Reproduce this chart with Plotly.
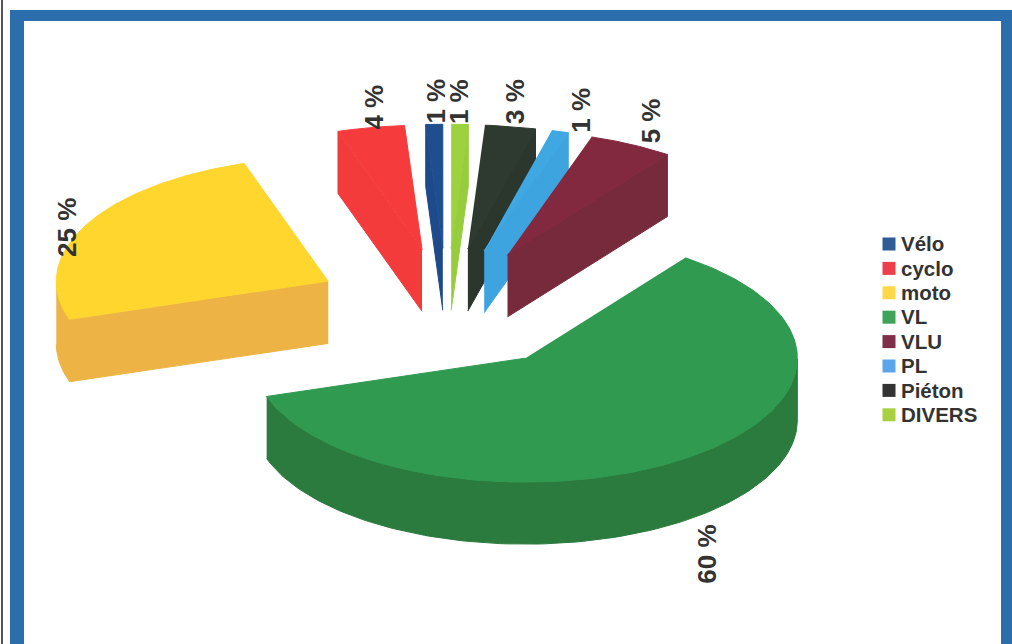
import numpy as np
import plotly.graph_objects as go

# Accident shares by road-user category, in legend order
categories = ["Vélo", "cyclo", "moto", "VL", "VLU", "PL", "Piéton", "DIVERS"]
shares = [1, 4, 25, 60, 5, 1, 3, 1]

top_colors = ["#1F4E8E", "#F53B3C", "#FFD62E", "#2F9A50", "#82293F", "#3FA8E2", "#2E3A30", "#9CD23E"]
wall_colors = ["#1D4A8A", "#F33B3C", "#EDB445", "#2B7A3E", "#772A3B", "#3EA4DF", "#2B362D", "#96CD3C"]
key_colors = ["#2F5C94", "#EE3F4A", "#FFD84A", "#3FA35A", "#7E2F4A", "#5AA5EC", "#333333", "#A8D040"]

# Projection of the exploded pie onto the page, in pixels
CENTER_X, CENTER_Y = 447, 309
RX, RY = 272, 124
DEPTH = 62
EXPLODE = 0.49
FIRST_ANGLE = 90.0  # the Vélo wedge starts at the top of the pie

# Label offsets from the middle of each wedge's rim (pixels)
label_nudge = {
    "Vélo": (2, -23), "cyclo": (2, -20), "moto": (-19, 2), "VL": (22, 96),
    "VLU": (20, -24), "PL": (21, -21), "Piéton": (4, -25), "DIVERS": (0, -23),
}

# Key placed to the right of the pie (pixels)
KEY_X, KEY_TOP, KEY_STEP = 889, 244, 24.4
KEY_TEXT_GAP = 12


def project(angle_deg, radius, ox, oy):
    a = np.radians(angle_deg)
    return ox + radius * RX * np.cos(a), oy - radius * RY * np.sin(a)


# Walk round the pie counter-clockwise following the legend order
wedges = []
start = FIRST_ANGLE
for name, share, top, wall in zip(categories, shares, top_colors, wall_colors):
    end = start + share * 3.6
    mid = (start + end) / 2
    ox, oy = project(mid, EXPLODE, CENTER_X, CENTER_Y)
    wedges.append(dict(name=name, share=share, a=start, b=end, mid=mid, ox=ox, oy=oy, top=top, wall=wall))
    start = end

fig = go.Figure()


def polygon(xs, ys, color):
    fig.add_trace(go.Scatter(
        x=list(xs), y=list(ys), mode="lines", fill="toself", fillcolor=color,
        line=dict(color=color, width=1), showlegend=False, hoverinfo="skip",
    ))


# Far wedges first so that nearer ones overlap them
for w in sorted(wedges, key=lambda v: -np.sin(np.radians(v["mid"]))):
    a, b, ox, oy = w["a"], w["b"], w["ox"], w["oy"]

    # Radial faces turned towards the viewer
    for edge, normal in ((a, a - 90), (b, b + 90)):
        if np.sin(np.radians(normal)) < 0:
            ex, ey = project(edge, 1, ox, oy)
            polygon([ox, ex, ex, ox], [oy, ey, ey + DEPTH, oy + DEPTH], w["wall"])

    # Rim, only where it faces the viewer (lower half of the ellipse)
    angles = np.linspace(a, b, 160)
    front = angles[np.sin(np.radians(angles)) < 0]
    if front.size > 1:
        rx, ry = project(front, 1, ox, oy)
        polygon(np.r_[rx, rx[::-1]], np.r_[ry, ry[::-1] + DEPTH], w["wall"])

    # Top face
    tx, ty = project(angles, 1, ox, oy)
    polygon(np.r_[ox, tx], np.r_[oy, ty], w["top"])

# Key: one square and one name per category
key_y = [KEY_TOP + i * KEY_STEP for i in range(len(categories))]
fig.add_trace(go.Scatter(
    x=[KEY_X] * len(categories), y=key_y, mode="markers",
    marker=dict(symbol="square", size=13, color=key_colors),
    showlegend=False, hoverinfo="skip",
))
fig.add_trace(go.Scatter(
    x=[KEY_X + KEY_TEXT_GAP] * len(categories), y=[v + 2 for v in key_y], mode="text",
    text=categories, textposition="middle right",
    textfont=dict(family="Liberation Sans", size=20.5, color="#333333", weight=700),
    showlegend=False, hoverinfo="skip",
))

annotations = []
for w in wedges:
    lx, ly = project(w["mid"], 1, w["ox"], w["oy"])
    dx, dy = label_nudge[w["name"]]
    annotations.append(dict(
        x=lx + dx, y=ly + dy, xref="x", yref="y", text=f'{w["share"]} %',
        textangle=-90, showarrow=False, xanchor="center", yanchor="middle",
        font=dict(family="Liberation Sans", size=26, color="#333333", weight=700),
    ))

BLUE = "#2C6DAC"
frame = [
    dict(type="rect", x0=10, x1=24, y0=10, y1=644),
    dict(type="rect", x0=10, x1=1012, y0=10, y1=21),
    dict(type="rect", x0=1001, x1=1012, y0=10, y1=644),
]
shapes = [dict(s, fillcolor=BLUE, line=dict(width=0), layer="below") for s in frame]
shapes.append(dict(type="line", x0=2, x1=2, y0=0, y1=644, line=dict(color="#555555", width=2), layer="below"))

fig.update_layout(
    width=1012, height=644,
    margin=dict(l=0, r=0, t=0, b=0),
    paper_bgcolor="white", plot_bgcolor="white",
    xaxis=dict(range=[0, 1012], visible=False, fixedrange=True),
    yaxis=dict(range=[644, 0], visible=False, fixedrange=True),
    shapes=shapes,
    annotations=annotations,
    showlegend=False,
)

fig.write_html("out.html")
